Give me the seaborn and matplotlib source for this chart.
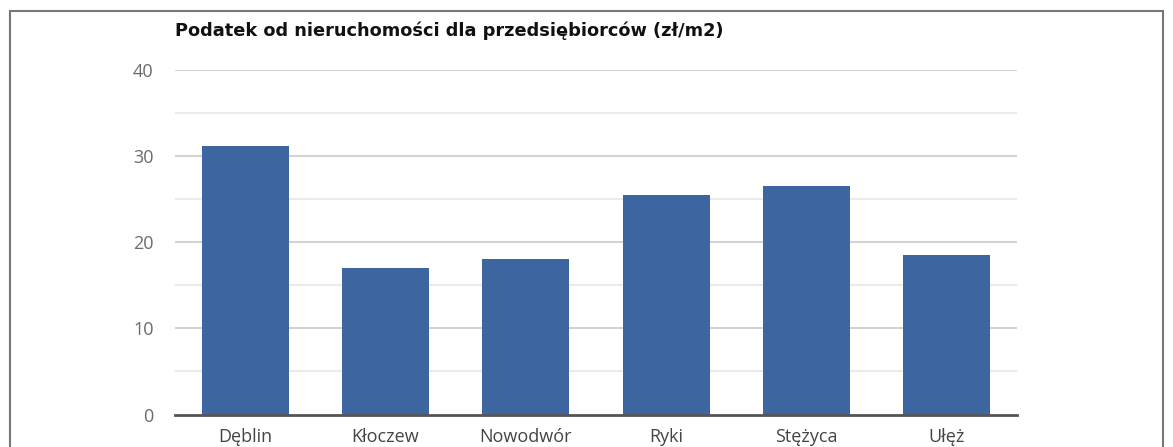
import matplotlib
matplotlib.use("Agg")
import matplotlib.pyplot as plt
import matplotlib.patches as mpatches
import seaborn as sns
import pandas as pd

categories = ["Dęblin", "Kłoczew", "Nowodwór", "Ryki", "Stężyca", "Ułęż"]
values = [31.2, 17.0, 18.0, 25.5, 26.5, 18.5]
title = "Podatek od nieruchomości dla przedsiębiorców (zł/m2)"
yticks = [0, 10, 20, 30, 40]
minor_ticks = [5, 15, 25, 35]

sns.set_theme(style="white")
plt.rcParams['font.family'] = ['Open Sans', 'DejaVu Sans']

df = pd.DataFrame({"gmina": categories, "wartosc": values})

fig = plt.figure(figsize=(11.73, 4.47), dpi=100)
ax = fig.add_axes([175/1173, 1-414.5/447, (1017-175)/1173, (414.5-70)/447])

for y in minor_ticks:
    ax.axhline(y, color="#ebebeb", lw=1.5, zorder=0)
for y in yticks[1:]:
    ax.axhline(y, color="#d3d3d3", lw=1.5, zorder=0)

sns.barplot(data=df, x="gmina", y="wartosc", color="#3d65a0", saturation=1,
            width=0.62, linewidth=0, ax=ax, zorder=2)

ax.set_ylim(0, 40)
ax.set_xlim(-0.5, len(categories)-0.5)
ax.set_yticks(yticks)
ax.set_xlabel("")
ax.set_ylabel("")
for s in ["top", "right", "left"]:
    ax.spines[s].set_visible(False)
ax.spines["bottom"].set_color("#555555")
ax.spines["bottom"].set_linewidth(2)
ax.spines["bottom"].set_zorder(3)
ax.tick_params(axis="y", length=0, pad=15.5, labelsize=13, labelcolor="#6b6b6b")
ax.tick_params(axis="x", length=0, pad=9.5, labelsize=13, labelcolor="#444444")

fig.text(175/1173, 1-31/447, title, fontsize=12.8, fontweight="bold",
         family=["DejaVu Sans"], color="#111111", va="center", ha="left")

rect = mpatches.Rectangle((9.5/1173, -0.1), (1162.5-9.5)/1173, 1.1-11.5/447,
                          transform=fig.transFigure, fill=False,
                          edgecolor="#777777", lw=1.5, clip_on=False)
fig.patches.append(rect)

fig.savefig("out.png", dpi=100)
